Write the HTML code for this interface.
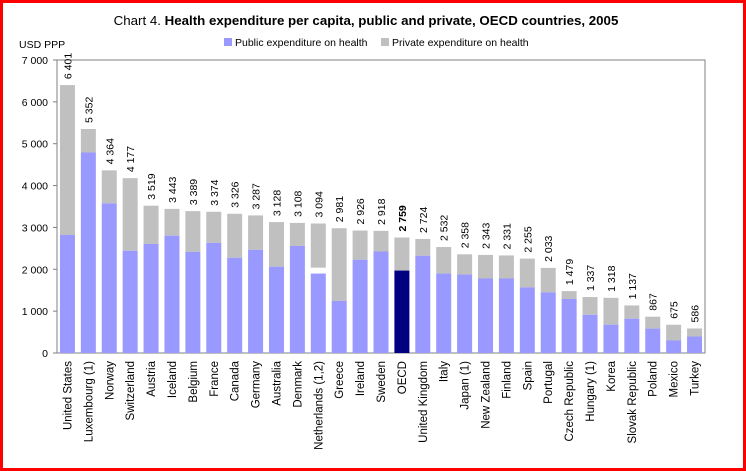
<!DOCTYPE html>
<html><head><meta charset="utf-8"><style>
html,body{margin:0;padding:0;background:#fff}
#wrap{position:relative;width:746px;height:471px;box-sizing:border-box;border:3px solid #ff0000;border-top-width:3px;overflow:hidden;font-family:"Liberation Sans",Arial,sans-serif}
svg{position:absolute;left:-3px;top:-3px}
</style></head><body>
<div id="wrap">
<svg id="chart" width="746" height="471">
<text x="366" y="25" text-anchor="middle" font-size="13.3" fill="#000">Chart 4. <tspan font-weight="bold">Health expenditure per capita, public and private, OECD countries, 2005</tspan></text>
<rect x="224" y="38" width="8" height="8" fill="#9999ff"/>
<text x="235" y="46" font-size="10.5">Public expenditure on health</text>
<rect x="381" y="38" width="8" height="8" fill="#c0c0c0"/>
<text x="392" y="46" font-size="10.5">Private expenditure on health</text>
<text x="19" y="48" font-size="10.5">USD PPP</text>
<rect x="57" y="60" width="648" height="293" fill="none" stroke="#808080" stroke-width="1"/>
<g id="ticks"></g><g id="bars"></g><g id="labels"></g>
</svg>
</div>
<script>
const categories=["United States","Luxembourg (1)","Norway","Switzerland","Austria","Iceland","Belgium","France","Canada","Germany","Australia","Denmark","Netherlands (1,2)","Greece","Ireland","Sweden","OECD","United Kingdom","Italy","Japan (1)","New Zealand","Finland","Spain","Portugal","Czech Republic","Hungary (1)","Korea","Slovak Republic","Poland","Mexico","Turkey"];
const totals=[6401,5352,4364,4177,3519,3443,3389,3374,3326,3287,3128,3108,3094,2981,2926,2918,2759,2724,2532,2358,2343,2331,2255,2033,1479,1337,1318,1137,867,675,586];
const publicVals=[2819,4790,3575,2441,2606,2803,2417,2630,2276,2465,2063,2559,1898,1244,2228,2425,1969,2323,1898,1874,1780,1780,1567,1449,1291,913,677,819,583,299,394];
const gapVals=[0,0,0,0,0,0,0,0,0,0,0,0,141,0,0,0,0,0,0,0,0,0,0,0,0,0,0,0,0,0,0];
const totalLabels=["6 401","5 352","4 364","4 177","3 519","3 443","3 389","3 374","3 326","3 287","3 128","3 108","3 094","2 981","2 926","2 918","2 759","2 724","2 532","2 358","2 343","2 331","2 255","2 033","1 479","1 337","1 318","1 137","867","675","586"];
const yTicks=[0,1000,2000,3000,4000,5000,6000,7000];
const yTickLabels=["0","1 000","2 000","3 000","4 000","5 000","6 000","7 000"];
const NS="http://www.w3.org/2000/svg";
const X0=57,X1=705,Y0=353,YT=60,YMAX=7000;
const y=v=>Y0-(v/YMAX)*(Y0-YT);
const step=(X1-X0)/categories.length;
const xc=i=>X0+step*(i+0.5);
const bw=15;
function mk(tag,attrs,parent){const e=document.createElementNS(NS,tag);for(const k in attrs)e.setAttribute(k,attrs[k]);parent.appendChild(e);return e;}
const tg=document.getElementById('ticks'),bg=document.getElementById('bars'),lg=document.getElementById('labels');
yTicks.forEach((t,i)=>{
  const l=mk('line',{x1:X0-4,x2:X0,y1:y(t),y2:y(t),stroke:'#808080'},tg);
  
  
  const tx=mk('text',{x:X0-9,y:y(t)+4,'text-anchor':'end','font-size':'10.5'},tg);
  tx.textContent=yTickLabels[i];
  
  
});
categories.forEach((c,i)=>{
  const cx=xc(i);
  const pubTop=y(publicVals[i]);
  const privBase=y(publicVals[i]+gapVals[i]);
  const pr=mk('rect',{x:cx-bw/2,y:y(totals[i]),width:bw,height:privBase-y(totals[i]),fill:'#c0c0c0'},bg);
  
  
  const pu=mk('rect',{x:cx-bw/2,y:pubTop,width:bw,height:Y0-pubTop,fill:c==='OECD'?'#000080':'#9999ff'},bg);
  
  
  const vy=y(totals[i])-6;
  const vt=mk('text',{x:0,y:0,transform:`translate(${cx+4},${vy}) rotate(-90)`,'font-size':'10.5','font-weight':c==='OECD'?'bold':'normal'},lg);
  vt.textContent=totalLabels[i];
  
  
  const ct=mk('text',{x:0,y:0,transform:`translate(${cx+4},${Y0+8}) rotate(-90)`,'text-anchor':'end','font-size':'11.5'},lg);
  ct.textContent=c;
  
  
});
</script>
</body></html>
